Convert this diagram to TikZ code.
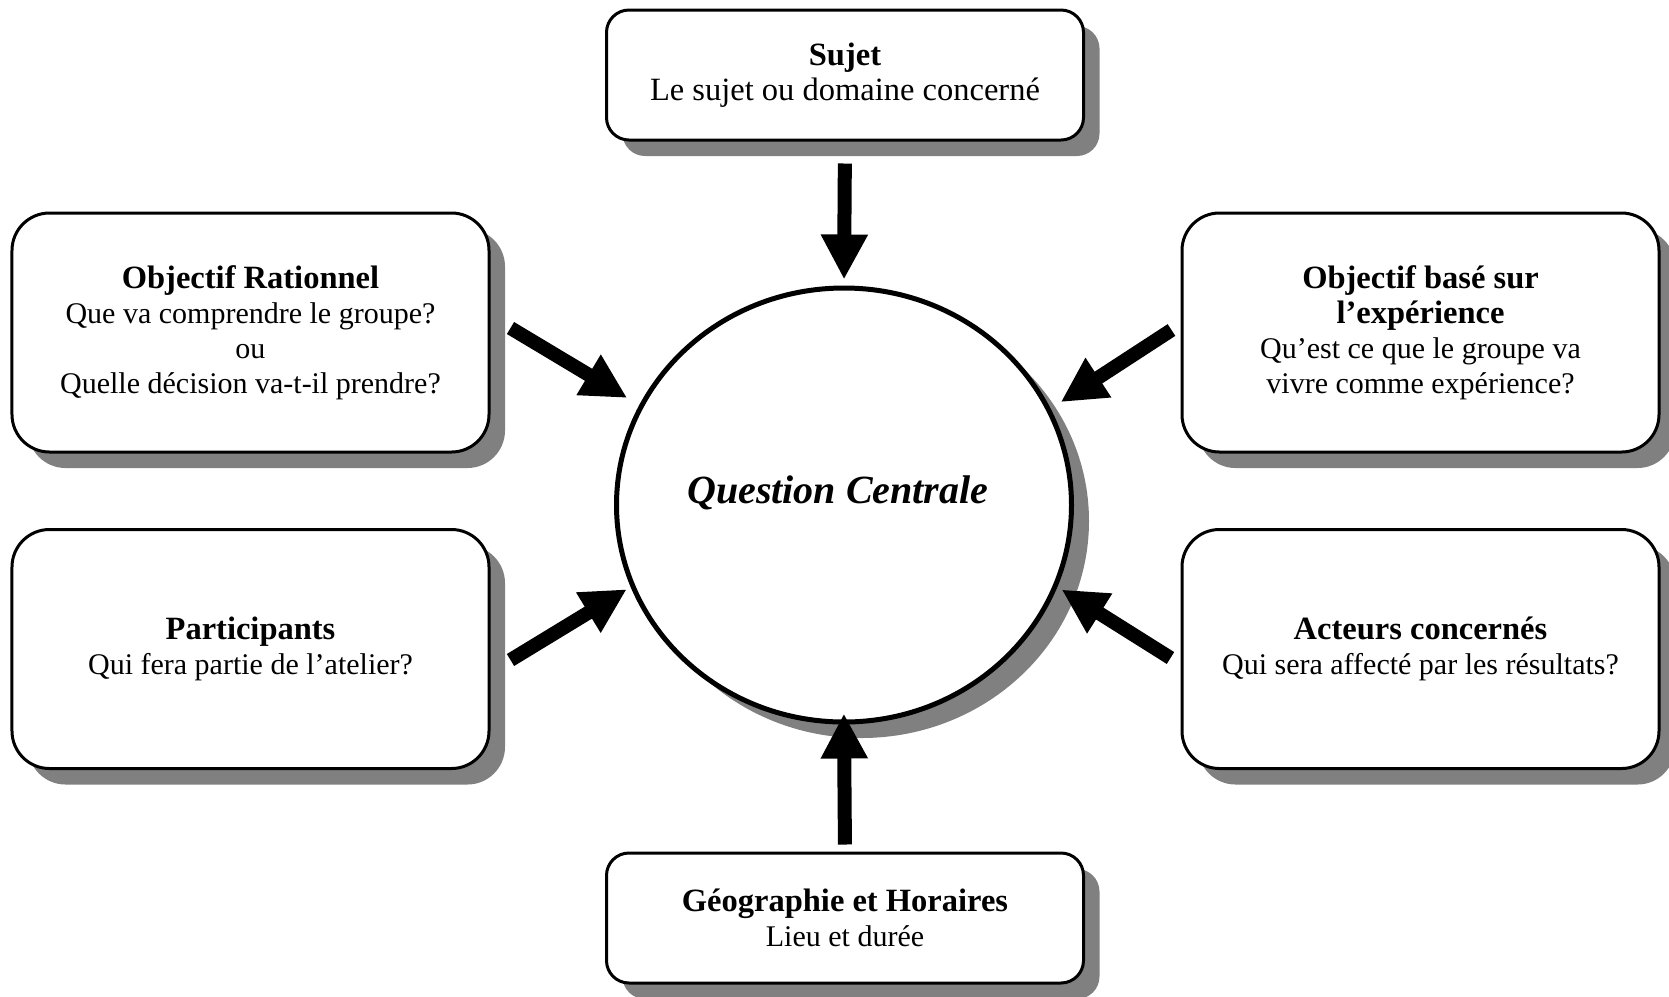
\documentclass[tikz,border=0pt]{standalone}
\usepackage{fontspec}
\setmainfont{Liberation Serif}
\usetikzlibrary{shapes.geometric}
\usetikzlibrary{shadows}
\usetikzlibrary{arrows.meta}
\tikzset{
	box node/.style={draw,line width=1.2pt,fill=white,rounded corners=15pt,
		minimum width=190.8pt,minimum height=95.6pt,align=center,
		font=\fontsize{12}{14}\selectfont,
		drop shadow={shadow xshift=6.4pt,shadow yshift=-6.4pt,fill=black!50,opacity=1}},
	small box/.style={box node,rounded corners=9pt,minimum height=52pt},
	centre node/.style={ellipse,draw,line width=2pt,fill=white,
		minimum width=182pt,minimum height=173.6pt,
		font=\fontsize{16}{19}\selectfont\bfseries\itshape,
		drop shadow={shadow xshift=7pt,shadow yshift=-6.4pt,fill=black!50,opacity=1}},
	fleche/.style={->,line width=5.6pt}
}
\newcommand{\titre}[1]{{\fontsize{13}{15}\selectfont\bfseries #1}}

\begin{document}
\begin{tikzpicture}[x=0.4pt,y=-0.4pt,>={Triangle[length=18pt,width=17.6pt]}]
	\useasboundingbox (0,0) rectangle (1669,996);
	\node [centre node] (qc) at (844,505) {\raisebox{0.7pt}[0pt][0pt]{\makebox[0pt]{\kern-5pt Question Centrale}}};
	\node [small box] (sujet) at (845,75) {\titre{Sujet}\\{\fontsize{13}{15}\selectfont Le sujet ou domaine concerné}};
	\node [small box] (geo) at (845,918) {\titre{Géographie et Horaires}\\Lieu et durée};
	\node [box node] (objr) at (250.5,332.5) {\titre{Objectif Rationnel}\\Que va comprendre le groupe?\\ou\\Quelle décision va-t-il prendre?};
	\node [box node] (part) at (250.5,649) {\titre{Participants}\\Qui fera partie de l’atelier?};
	\node [box node] (objb) at (1420.5,332.5) {\titre{Objectif basé sur}\\\titre{l’expérience}\\Qu’est ce que le groupe va\\vivre comme expérience?};
	\node [box node] (act) at (1420.5,649) {\titre{Acteurs concernés}\\Qui sera affecté par les résultats?};
	\draw [fleche,shorten <=8.8pt,shorten >=2.4pt] (sujet.south) -- (qc.north);
	\draw [fleche,shorten <=2.8pt,shorten >=-4.4pt] (geo.north) -- (qc.south);
	\draw [fleche,shorten >=5.6pt] ([xshift=8pt,yshift=1.8pt]objr.east) -- (qc.154);
	\draw [fleche,shorten >=1.8pt] ([xshift=8pt,yshift=-4.4pt]part.east) -- (qc.201);
	\draw [fleche,shorten >=4.8pt] ([xshift=-3.6pt,yshift=1pt]objb.west) -- (qc.25);
	\draw [fleche,shorten >=2pt] ([xshift=-4pt,yshift=-3.6pt]act.west) -- (qc.-21);
\end{tikzpicture}
\end{document}
